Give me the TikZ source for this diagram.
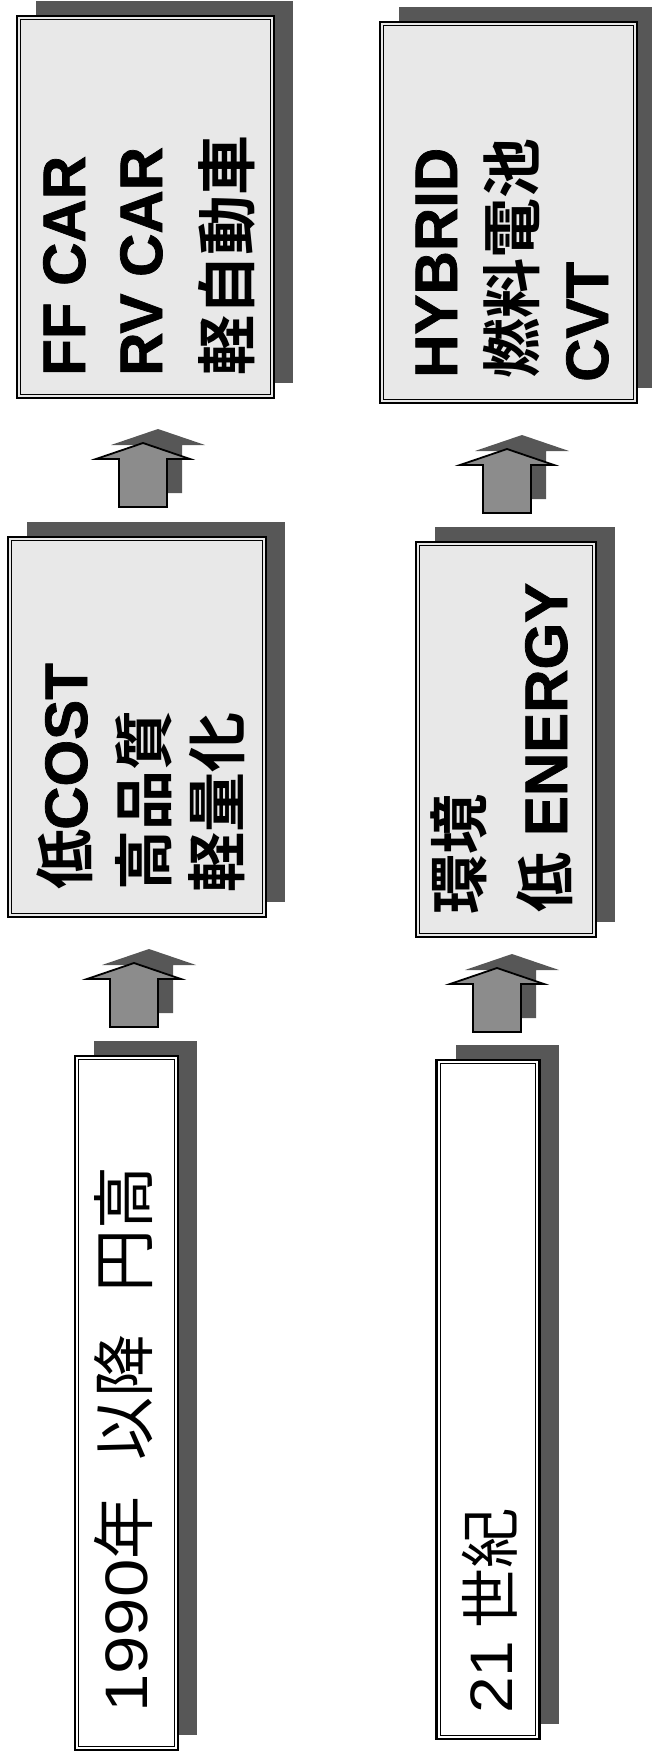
\documentclass[tikz,border=0pt]{standalone}
\usepackage{fontspec}
\setmainfont{Liberation Sans}[BoldFeatures={FakeBold=1.2}]
\newfontfamily\jp{Noto Sans CJK JP}[BoldFont={Noto Sans CJK JP Bold}]
\usetikzlibrary{shadows}
\begin{document}
\begin{tikzpicture}[x=1pt,y=-1pt,
  panel/.style={draw=black, line width=2.4pt, rectangle, inner sep=0pt,
    drop shadow={shadow xshift=19pt, shadow yshift=15pt, fill=black!66, opacity=1}},
  lightpanel/.style={panel, fill=black!9},
  whitepanel/.style={panel, fill=white},
  innerline/.style={draw=black, line width=1.1pt},
  label/.style={rotate=90, anchor=base west, inner sep=0pt, font=\fontsize{60}{72}\selectfont\bfseries},
  plainlabel/.style={rotate=90, anchor=base west, inner sep=0pt, font=\fontsize{60}{72}\selectfont},
  blockarrow/.style={fill=black!45, draw=black, line width=1.8pt, line join=miter},
  arrowshadow/.style={fill=black!66, draw=none}]
\useasboundingbox (0,0) rectangle (651,1754);

% boxes
\node[lightpanel, minimum width=257, minimum height=382] (ff) at (145.5,207) {};
\node[lightpanel, minimum width=257, minimum height=381] (hy) at (508.5,212.5) {};
\node[lightpanel, minimum width=258, minimum height=380] (lc) at (137,727) {};
\node[lightpanel, minimum width=180, minimum height=395] (kk) at (506,739.5) {};
\node[whitepanel, minimum width=103, minimum height=694] (y90) at (126.5,1403) {};
\node[whitepanel, minimum width=103, minimum height=679] (c21) at (488,1399.5) {};

\foreach \b in {ff,hy,lc,kk,y90,c21}{
  \draw[innerline] ([shift={(5,5)}]\b.north west) rectangle ([shift={(-5,-5)}]\b.south east);
}

% block arrows
\coordinate (a1) at (143,443);
\coordinate (a2) at (507,449);
\coordinate (a3) at (134,963);
\coordinate (a4) at (497,968);
\foreach \a in {a1,a2,a3,a4}{
  \fill[arrowshadow] ([shift={(15,-14)}]\a) -- ++(47,16) -- ++(-23,0) -- ++(0,48) -- ++(-48,0) -- ++(0,-48) -- ++(-23,0) -- cycle;
  \draw[blockarrow] (\a) -- ++(47,16) -- ++(-23,0) -- ++(0,48) -- ++(-48,0) -- ++(0,-48) -- ++(-23,0) -- cycle;
}

% texts
\node[label] (t1) at (85,376) {FF CAR};
\node[label] (t2) at (162,376) {RV CAR};
\node[label] (t3) at (249,376) {\jp\bfseries 軽自動車};

\node[label] (t4) at (457,378) {HYBRID};
\node[label] (t5) at (534,379) {\jp\bfseries 燃料電池};
\node[label] (t6) at (608,382) {CVT};

\node[label] (t7) at (87,890) {{\jp\bfseries 低}COST};
\node[label] (t8) at (166,891) {\jp\bfseries 高品質};
\node[label] (t9) at (239,893) {\jp\bfseries 軽量化};

\node[label] (t10) at (481,915) {\jp\bfseries 環境};
\node[label] (t11) at (567,913) {{\jp\bfseries 低} ENERGY};

\node[plainlabel] (t12) at (147,1713) {\scalebox{1.15}[1]{1990}{\jp\fontsize{63}{72}\selectfont 年}\hspace{36pt}{\jp\fontsize{63}{72}\selectfont 以降}\hspace{42pt}{\jp\fontsize{63}{72}\selectfont 円高}};
\node[plainlabel] (t13) at (512,1714) {\scalebox{1.1}[1]{21}\hspace{12pt}{\jp 世紀}};
\end{tikzpicture}
\end{document}
